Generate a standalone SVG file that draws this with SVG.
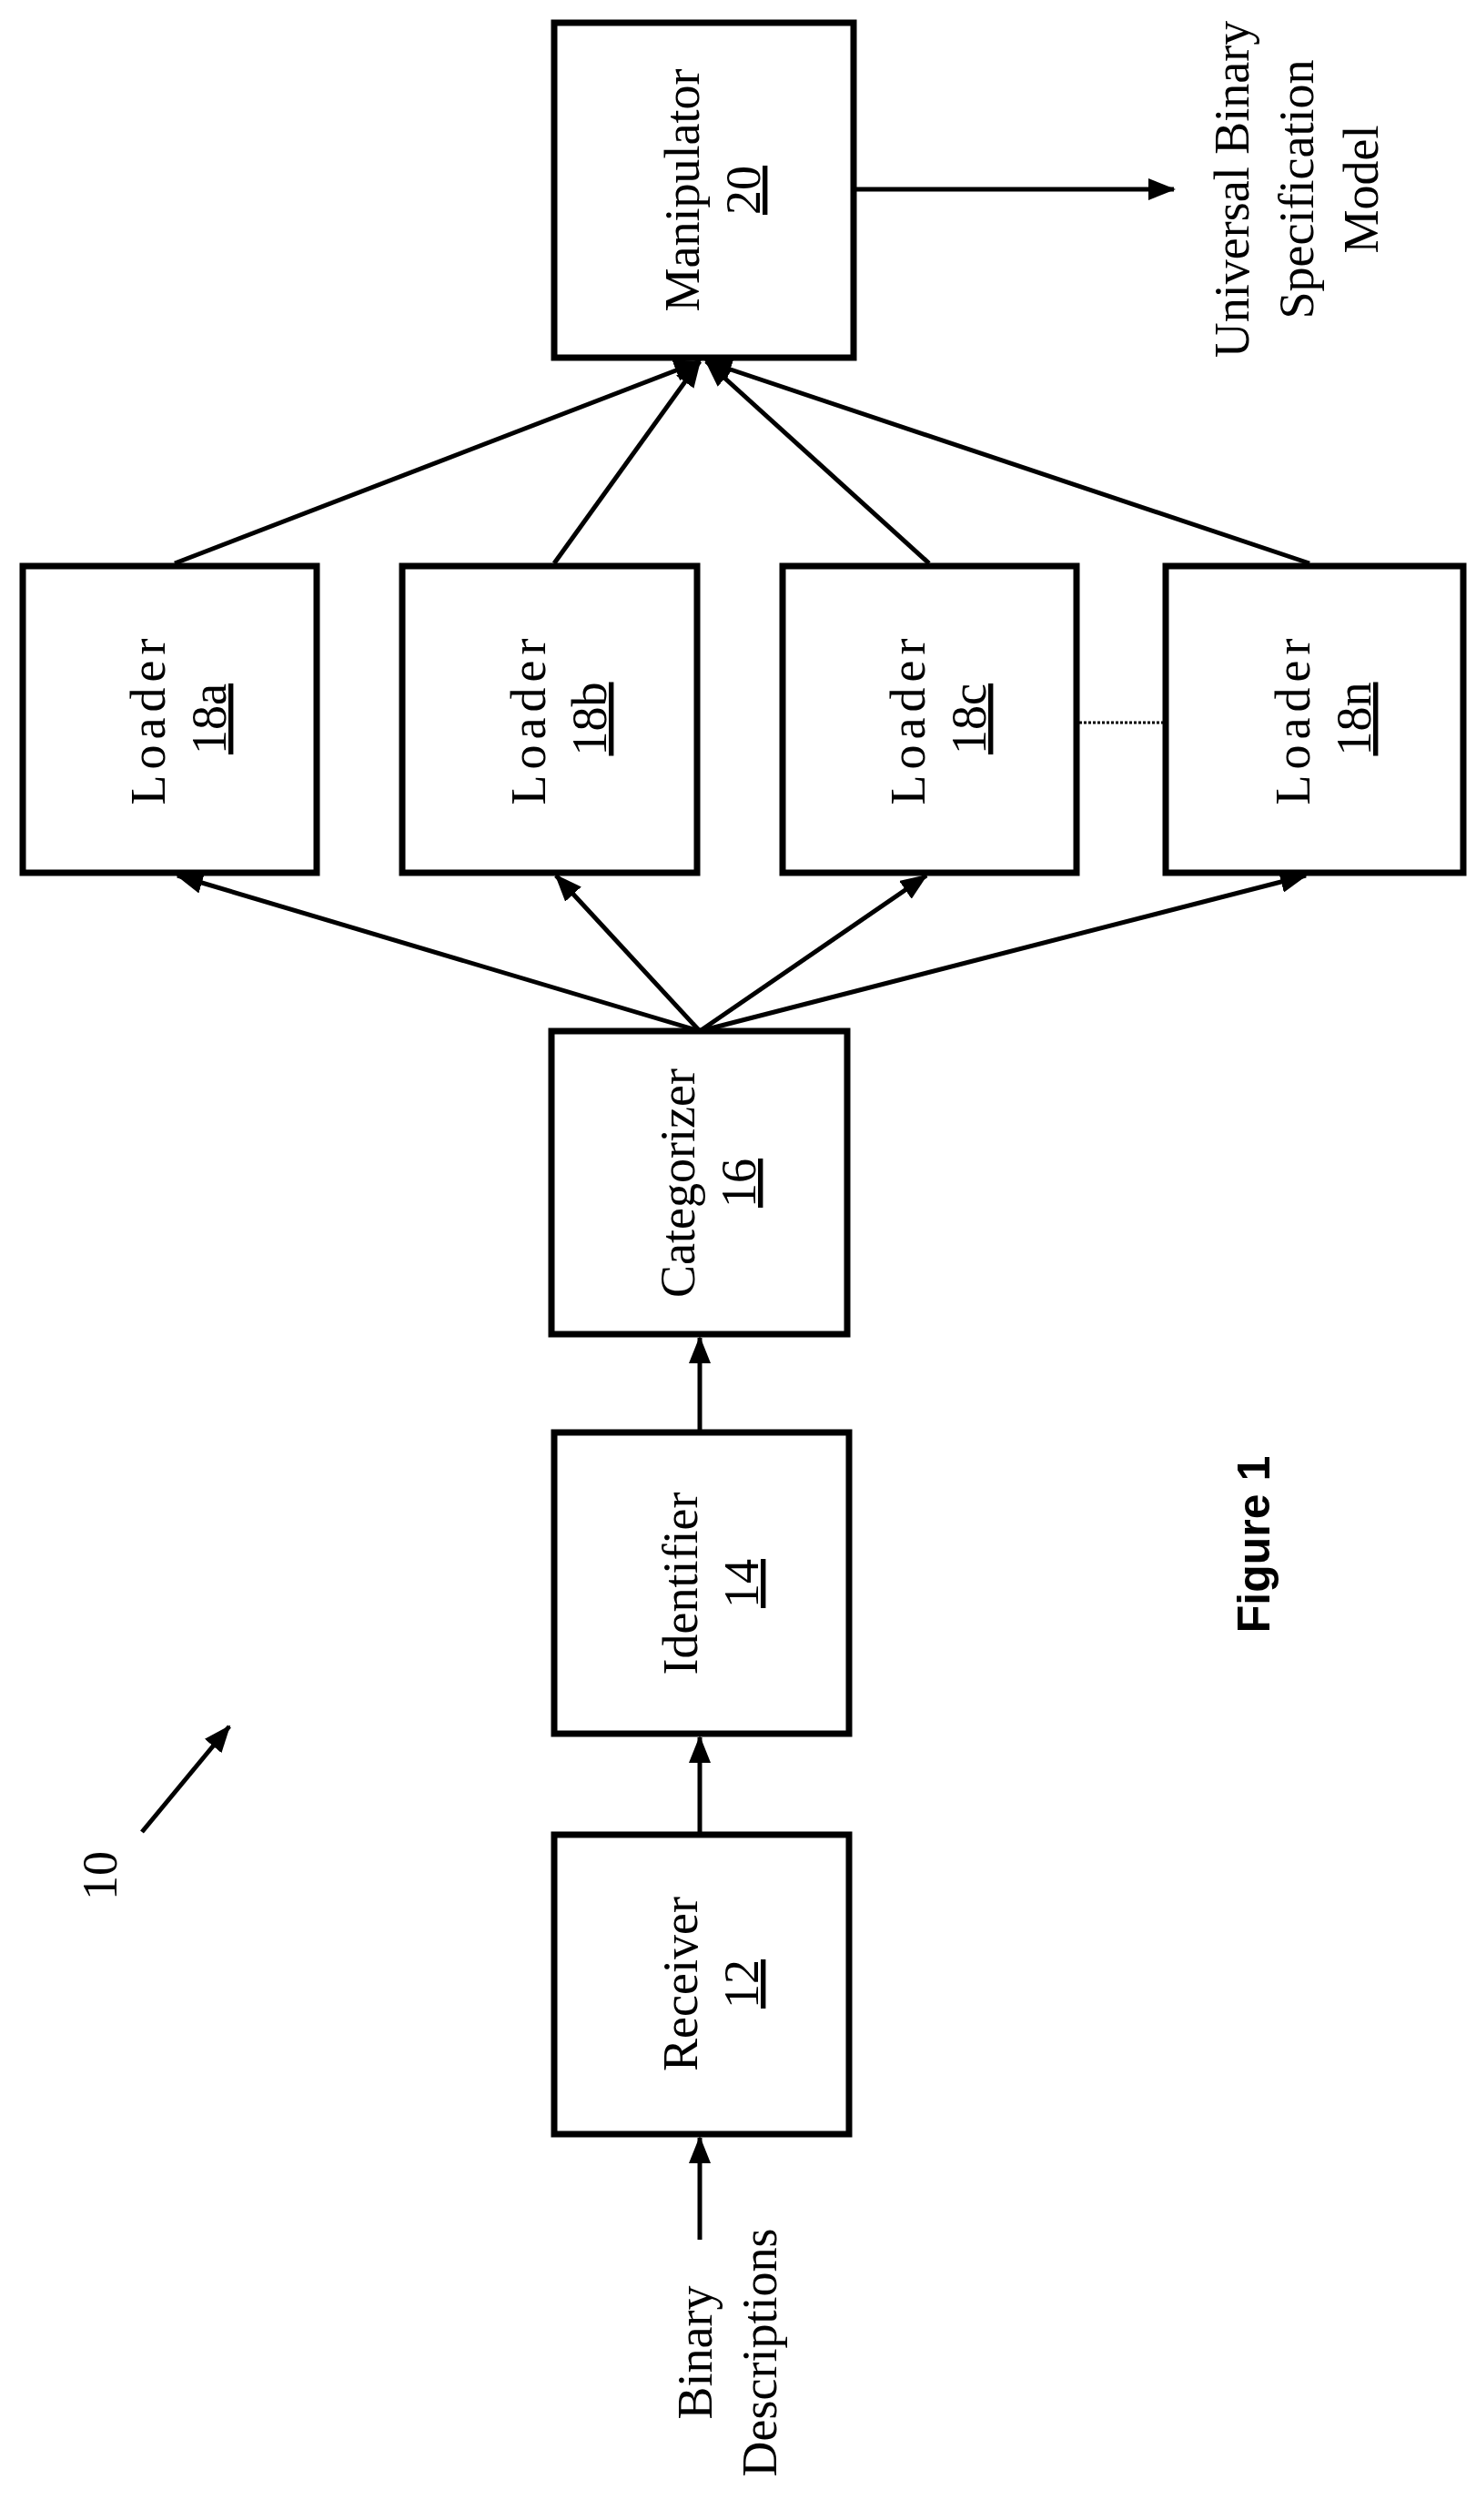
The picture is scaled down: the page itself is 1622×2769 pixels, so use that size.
<svg xmlns="http://www.w3.org/2000/svg" width="1622" height="2769" viewBox="0 0 1622 2769">
<style>
.box{fill:#fff;stroke:#000;stroke-width:7}
.t{font-family:"Liberation Serif",serif;font-size:54px;text-anchor:middle;fill:#000}
.ld{letter-spacing:6px}
.c{stroke:#000;stroke-width:5;fill:none}
</style>
<defs>
<marker id="ah" markerUnits="userSpaceOnUse" markerWidth="30" markerHeight="24" refX="28" refY="12" orient="auto">
<path d="M0,0 L30,12 L0,24 Z" fill="#000"/>
</marker>
</defs>
<rect width="1622" height="2769" fill="#fff"/>
<g id="connectors">
<line class="c" x1="769" y1="2461" x2="769" y2="2349" marker-end="url(#ah)"/>
<line class="c" x1="769" y1="2016" x2="769" y2="1909" marker-end="url(#ah)"/>
<line class="c" x1="769" y1="1574" x2="769" y2="1470" marker-end="url(#ah)"/>
<line class="c" x1="769" y1="1133" x2="195" y2="962" marker-end="url(#ah)"/>
<line class="c" x1="769" y1="1133" x2="611" y2="962" marker-end="url(#ah)"/>
<line class="c" x1="769" y1="1133" x2="1018" y2="962" marker-end="url(#ah)"/>
<line class="c" x1="769" y1="1133" x2="1435" y2="962" marker-end="url(#ah)"/>
<line class="c" x1="192" y1="619" x2="769" y2="397" marker-end="url(#ah)"/>
<line class="c" x1="609" y1="619" x2="769" y2="397" marker-end="url(#ah)"/>
<line class="c" x1="1021" y1="619" x2="776" y2="397" marker-end="url(#ah)"/>
<line class="c" x1="1439" y1="619" x2="776" y2="397" marker-end="url(#ah)"/>
<line class="c" x1="938" y1="208" x2="1290" y2="208" marker-end="url(#ah)"/>
<line x1="1186" y1="794" x2="1278" y2="794" stroke="#000" stroke-width="3" stroke-dasharray="3,2"/>
<line class="c" x1="156" y1="2013" x2="252" y2="1897" marker-end="url(#ah)"/>
</g>
<g id="manipulator">
<rect class="box" x="609" y="25" width="329" height="368"/>
<g transform="translate(773,209) rotate(-90)"><text class="t" y="-5">Manipulator</text><text class="t" y="62" text-decoration="underline">20</text></g>
</g>
<g id="loader18a">
<rect class="box" x="25" y="622" width="323" height="337"/>
<g transform="translate(186,790) rotate(-90)"><text class="t ld" y="-5">Loader</text><text class="t" y="62" text-decoration="underline">18a</text></g>
</g>
<g id="loader18b">
<rect class="box" x="442" y="622" width="324" height="337"/>
<g transform="translate(604,790) rotate(-90)"><text class="t ld" y="-5">Loader</text><text class="t" y="62" text-decoration="underline">18b</text></g>
</g>
<g id="loader18c">
<rect class="box" x="860" y="622" width="323" height="337"/>
<g transform="translate(1021,790) rotate(-90)"><text class="t ld" y="-5">Loader</text><text class="t" y="62" text-decoration="underline">18c</text></g>
</g>
<g id="loader18n">
<rect class="box" x="1281" y="622" width="327" height="337"/>
<g transform="translate(1444,790) rotate(-90)"><text class="t ld" y="-5">Loader</text><text class="t" y="62" text-decoration="underline">18n</text></g>
</g>
<g id="categorizer">
<rect class="box" x="606" y="1133" width="325" height="333"/>
<g transform="translate(768,1300) rotate(-90)"><text class="t" y="-5">Categorizer</text><text class="t" y="62" text-decoration="underline">16</text></g>
</g>
<g id="identifier">
<rect class="box" x="609" y="1574" width="324" height="331"/>
<g transform="translate(771,1740) rotate(-90)"><text class="t" y="-5">Identifier</text><text class="t" y="62" text-decoration="underline">14</text></g>
</g>
<g id="receiver">
<rect class="box" x="609" y="2016" width="324" height="329"/>
<g transform="translate(771,2180) rotate(-90)"><text class="t" y="-5">Receiver</text><text class="t" y="62" text-decoration="underline">12</text></g>
</g>
<g id="labels">
<g transform="translate(0,208) rotate(-90)"><text class="t" y="1372">Universal Binary</text><text class="t" y="1443">Specification</text><text class="t" y="1514">Model</text></g>
<g transform="translate(0,2585) rotate(-90)"><text class="t" y="782">Binary</text><text class="t" y="853">Descriptions</text></g>
<g transform="translate(0,2061) rotate(-90)"><text class="t" y="128">10</text></g>
<g transform="translate(0,1697) rotate(-90)"><text y="1395" text-anchor="middle" font-family="Liberation Sans,Arial,sans-serif" font-weight="bold" font-size="50">Figure 1</text></g>
</g>
</svg>
